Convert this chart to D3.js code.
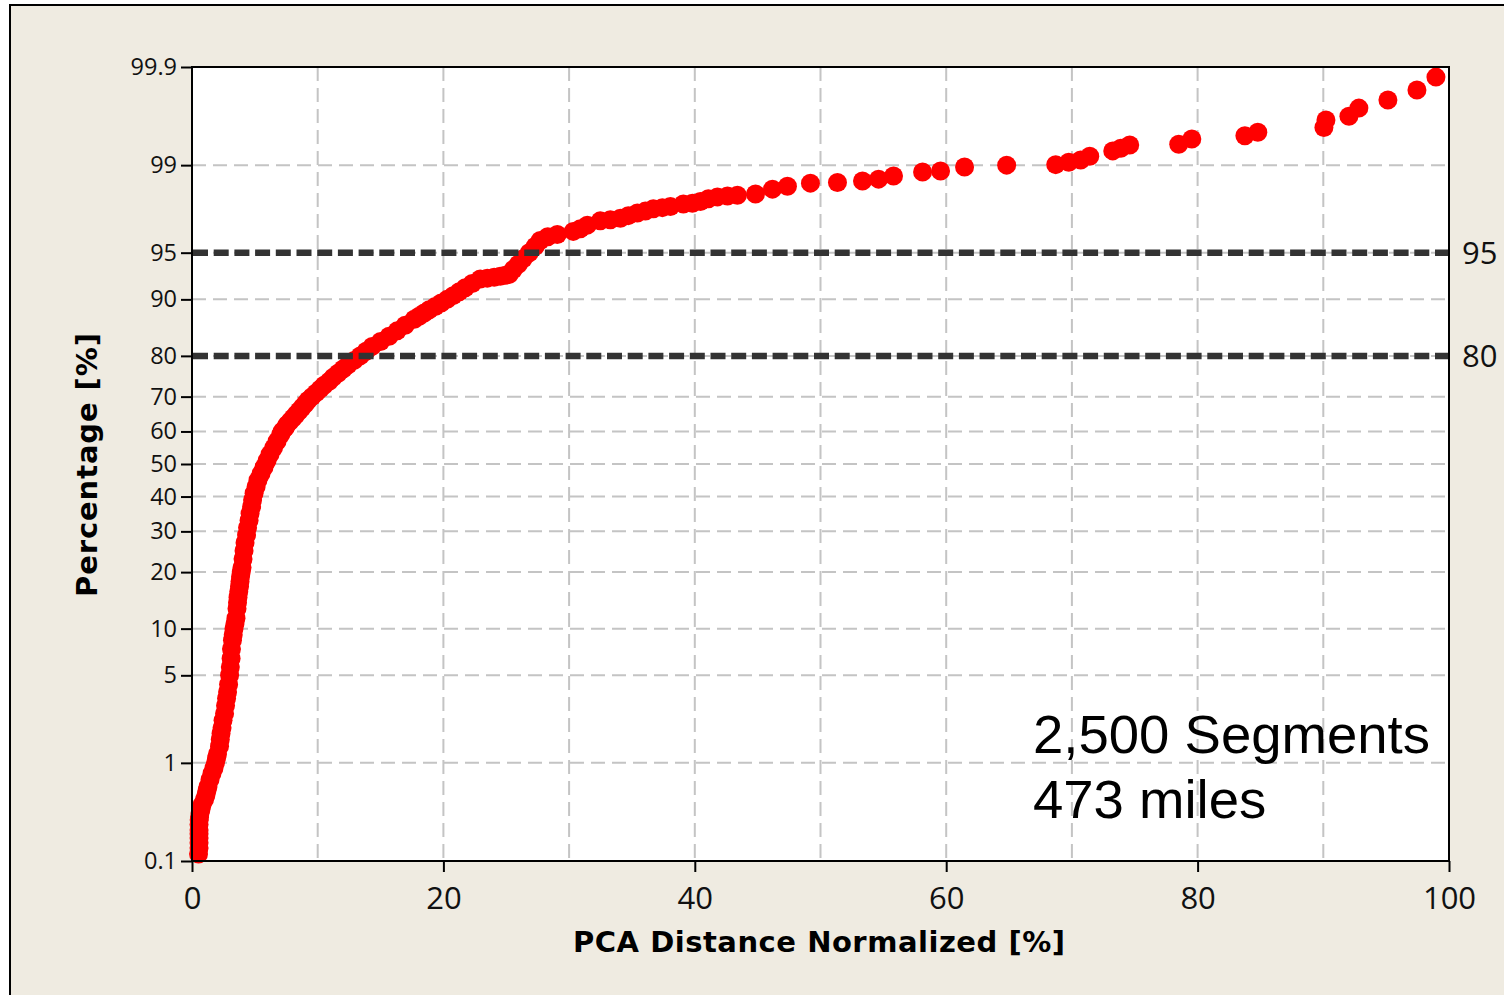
<!DOCTYPE html>
<html>
<head>
<meta charset="utf-8">
<script src="https://cdn.jsdelivr.net/npm/d3@7/dist/d3.min.js"></script>
<style>
body { margin: 0; background: #ffffff; }
</style>
</head>
<body>
<div class="chart"></div>
<script>
// PCA distance normalized [%] for each plotted point
var distPct = [
  0.52, 0.56, 0.56, 0.56, 0.56, 0.56, 0.56, 0.57, 0.6, 0.64, 0.72, 0.8, 1.0, 1.11, 1.19, 1.27,
  1.43, 1.59, 1.75, 1.87, 1.95, 2.03, 2.19, 2.25, 2.31, 2.39, 2.47, 2.59, 2.67, 2.75, 2.83, 2.91,
  2.99, 3.05, 3.11, 3.14, 3.22, 3.28, 3.34, 3.42, 3.50, 3.58, 3.62, 3.66, 3.72, 3.78, 3.82, 3.86,
  3.92, 3.98, 4.06, 4.14, 4.22, 4.34, 4.42, 4.54, 4.62, 4.74, 4.82, 4.94, 5.10, 5.25, 5.49, 5.73,
  5.97, 6.21, 6.49, 6.77, 7.05, 7.17, 7.40, 7.56, 7.80, 8.04, 8.28, 8.52, 8.76, 9.0, 9.24, 9.55,
  9.87, 10.19, 10.51, 10.91, 11.23, 11.62, 12.02, 12.42, 12.90, 13.38, 13.85, 14.33, 15.0, 15.68, 16.32, 16.96,
  17.68, 18.07, 18.47, 18.87, 19.35, 19.82, 20.30, 20.78, 21.26, 21.74, 22.29, 22.93, 23.49, 24.04, 24.52, 24.92,
  25.24, 25.56, 25.96, 26.35, 26.83, 27.31, 27.7, 28.3, 29.06, 30.33, 30.89, 31.45, 32.48, 33.28, 34.08, 34.71,
  35.43, 36.07, 36.70, 37.42, 38.06, 39.09, 39.81, 40.45, 41.08, 41.80, 42.60, 43.39, 44.83, 46.18, 47.37, 49.20,
  51.35, 53.34, 54.62, 55.81, 58.12, 59.55, 61.46, 64.81, 68.71, 69.75, 70.70, 71.42, 73.25, 73.89, 74.60, 78.50,
  79.54, 83.76, 84.79, 90.05, 90.21, 92.04, 92.83, 95.14, 97.45, 98.96
];
// cumulative percentage [%] for the same points
var cumPct = [
  0.12, 0.14, 0.16, 0.18, 0.2, 0.22, 0.25, 0.28, 0.3, 0.33, 0.36, 0.4, 0.45, 0.5, 0.55, 0.6,
  0.7, 0.8, 0.9, 1.0, 1.1, 1.2, 1.4, 1.6, 1.8, 2.0, 2.3, 2.6, 3.0, 3.4, 3.8, 4.3,
  5.0, 5.7, 6.5, 7.5, 8.5, 9.2, 10, 10.7, 11.5, 13, 14, 15, 16, 17, 18, 19,
  20, 21, 23, 25, 27, 29, 31, 33, 35, 37, 39, 41, 43, 45, 47, 49,
  51, 53, 55, 57, 59, 60, 61, 62, 63, 64, 65, 66, 67, 68, 69, 70,
  71, 72, 73, 74, 75, 76, 77, 78, 79, 80, 81, 82, 83, 84, 85, 86,
  87, 87.5, 88, 88.5, 89, 89.5, 90, 90.5, 91, 91.5, 92, 92.5, 92.6, 92.7, 92.8, 92.9,
  93.0, 93.5, 94, 94.5, 95, 95.5, 95.9, 96.15, 96.3, 96.49, 96.65, 96.85, 97.08, 97.14, 97.21, 97.34,
  97.46, 97.55, 97.65, 97.70, 97.75, 97.85, 97.88, 97.95, 98.05, 98.12, 98.15, 98.18, 98.22, 98.38, 98.47, 98.56,
  98.58, 98.62, 98.67, 98.75, 98.85, 98.87, 98.96, 99.0, 99.01, 99.06, 99.10, 99.17, 99.26, 99.30, 99.35, 99.36,
  99.43, 99.47, 99.51, 99.56, 99.63, 99.66, 99.72, 99.77, 99.82, 99.87
];

var xTicks = [0, 20, 40, 60, 80, 100];
var xGrid = [10, 20, 30, 40, 50, 60, 70, 80, 90];
var yTicks = [0.1, 1, 5, 10, 20, 30, 40, 50, 60, 70, 80, 90, 95, 99, 99.9];
var yTickLabels = ["0.1", "1", "5", "10", "20", "30", "40", "50", "60", "70", "80", "90", "95", "99", "99.9"];
var refLines = [95, 80];
var noteLines = ["2,500 Segments", "473 miles"];

// inverse normal cdf (Acklam), used for the probability axis
function probit(p) {
    var a = [-3.969683028665376e+01, 2.209460984245205e+02, -2.759285104469687e+02, 1.383577518672690e+02, -3.066479806614716e+01, 2.506628277459239e+00];
    var b = [-5.447609879822406e+01, 1.615858368580409e+02, -1.556989798598866e+02, 6.680131188771972e+01, -1.328068155288572e+01];
    var c = [-7.784894002430293e-03, -3.223964580411365e-01, -2.400758277161838e+00, -2.549732539343734e+00, 4.374664141464968e+00, 2.938163982698783e+00];
    var d = [7.784695709041462e-03, 3.224671290700398e-01, 2.445134137142996e+00, 3.754408661907416e+00];
    var plow = 0.02425, q, r;
    if (p < plow) {
        q = Math.sqrt(-2 * Math.log(p));
        return (((((c[0]*q+c[1])*q+c[2])*q+c[3])*q+c[4])*q+c[5]) / ((((d[0]*q+d[1])*q+d[2])*q+d[3])*q+1);
    }
    if (p <= 1 - plow) {
        q = p - 0.5; r = q * q;
        return (((((a[0]*r+a[1])*r+a[2])*r+a[3])*r+a[4])*r+a[5])*q / (((((b[0]*r+b[1])*r+b[2])*r+b[3])*r+b[4])*r+1);
    }
    q = Math.sqrt(-2 * Math.log(1 - p));
    return -(((((c[0]*q+c[1])*q+c[2])*q+c[3])*q+c[4])*q+c[5]) / ((((d[0]*q+d[1])*q+d[2])*q+d[3])*q+1);
}

var svgWidth = 1504, svgHeight = 995;
var plot = { left: 192, top: 67, right: 1449, bottom: 861 };

var svg = d3.select(".chart")
    .append("svg")
    .attr("width", svgWidth)
    .attr("height", svgHeight)
    .style("display", "block");

// outer panel
svg.append("rect")
    .attr("x", 10).attr("y", 5)
    .attr("width", 1700).attr("height", 1200)
    .attr("fill", "#efebe1")
    .attr("stroke", "#000")
    .attr("stroke-width", 2);

// scales
var xScale = d3.scaleLinear()
    .domain([0, 100])
    .range([plot.left, plot.right]);

var zScale = d3.scaleLinear()
    .domain([probit(0.001), probit(0.999)])
    .range([plot.bottom, plot.top]);

function yPos(pct) { return zScale(probit(pct / 100)); }

// plot area
svg.append("rect")
    .attr("x", plot.left).attr("y", plot.top)
    .attr("width", plot.right - plot.left)
    .attr("height", plot.bottom - plot.top)
    .attr("fill", "#fff");

// grid
var grid = svg.append("g")
    .attr("stroke", "#c4c4c4")
    .attr("stroke-width", 2)
    .attr("stroke-dasharray", "14,7");

grid.selectAll("line.vg")
    .data(xGrid)
    .enter()
    .append("line")
    .attr("class", "vg")
    .attr("x1", d => xScale(d)).attr("x2", d => xScale(d))
    .attr("y1", plot.top).attr("y2", plot.bottom);

grid.selectAll("line.hg")
    .data(yTicks.slice(1, -1))
    .enter()
    .append("line")
    .attr("class", "hg")
    .attr("x1", plot.left).attr("x2", plot.right)
    .attr("y1", d => yPos(d)).attr("y2", d => yPos(d));

// points
svg.append("g")
    .selectAll("circle")
    .data(distPct.map((d, i) => ({ x: d, p: cumPct[i] })))
    .enter()
    .append("circle")
    .attr("cx", d => xScale(d.x))
    .attr("cy", d => yPos(d.p))
    .attr("r", 9.5)
    .attr("fill", "#ff0000");

// reference lines at 95 and 80
svg.append("g")
    .selectAll("line")
    .data(refLines)
    .enter()
    .append("line")
    .attr("x1", plot.left + 1).attr("x2", plot.right)
    .attr("y1", d => yPos(d)).attr("y2", d => yPos(d))
    .attr("stroke", "#333")
    .attr("stroke-width", 6.5)
    .attr("stroke-dasharray", "15,5.7");

svg.append("g")
    .selectAll("text")
    .data(refLines)
    .enter()
    .append("text")
    .attr("x", 1462)
    .attr("y", d => yPos(d) + 11)
    .attr("font-family", "'Open Sans', sans-serif")
    .attr("font-size", 31)
    .attr("fill", "#111")
    .text(d => d);

// frame
svg.append("rect")
    .attr("x", plot.left).attr("y", plot.top)
    .attr("width", plot.right - plot.left)
    .attr("height", plot.bottom - plot.top)
    .attr("fill", "none")
    .attr("stroke", "#000")
    .attr("stroke-width", 2);

// axes
var xAxis = d3.axisBottom(xScale)
    .tickValues(xTicks)
    .tickSize(11)
    .tickFormat(d3.format("d"));

var yAxis = d3.axisLeft(zScale)
    .tickValues(yTicks.map(p => probit(p / 100)))
    .tickSize(11)
    .tickPadding(4)
    .tickFormat((d, i) => yTickLabels[i]);

var gx = svg.append("g")
    .attr("transform", `translate(0,${plot.bottom})`)
    .call(xAxis);
gx.select(".domain").remove();
gx.selectAll("line").attr("stroke", "#000").attr("stroke-width", 2);
gx.selectAll("text")
    .attr("y", 48).attr("dy", null)
    .attr("font-family", "'Open Sans', sans-serif")
    .attr("font-size", 31)
    .attr("fill", "#111");

var gy = svg.append("g")
    .attr("transform", `translate(${plot.left},0)`)
    .call(yAxis);
gy.select(".domain").remove();
gy.selectAll("line").attr("stroke", "#000").attr("stroke-width", 2);
gy.selectAll("text")
    .attr("font-family", "'Open Sans', sans-serif")
    .attr("font-size", 23.5)
    .attr("fill", "#111");

// axis titles
svg.append("text")
    .attr("x", 819).attr("y", 952)
    .attr("text-anchor", "middle")
    .attr("font-family", "'DejaVu Sans', sans-serif")
    .attr("font-weight", "bold")
    .attr("font-size", 29)
    .attr("textLength", 492)
    .attr("lengthAdjust", "spacing")
    .text("PCA Distance Normalized [%]");

svg.append("text")
    .attr("transform", "translate(97,465) rotate(-90)")
    .attr("text-anchor", "middle")
    .attr("font-family", "'DejaVu Sans', sans-serif")
    .attr("font-weight", "bold")
    .attr("font-size", 29)
    .attr("textLength", 264)
    .attr("lengthAdjust", "spacing")
    .text("Percentage [%]");

// annotation
svg.append("g")
    .selectAll("text")
    .data(noteLines)
    .enter()
    .append("text")
    .attr("x", 1033)
    .attr("y", (d, i) => 753 + i * 65)
    .attr("font-family", "'Liberation Sans', Arial, sans-serif")
    .attr("font-size", 54.5)
    .attr("fill", "#000")
    .text(d => d);
</script>
</body>
</html>
